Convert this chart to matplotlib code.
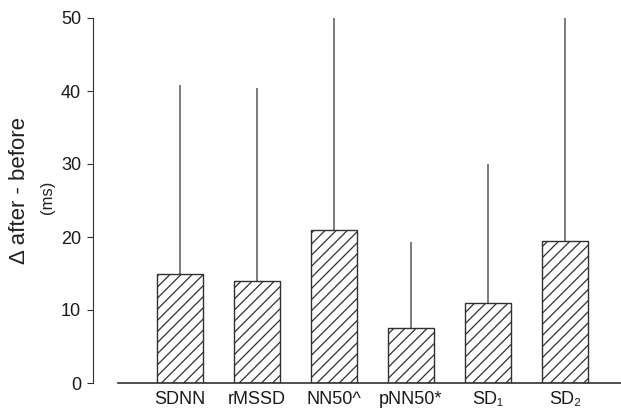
import matplotlib
matplotlib.use("Agg")
import matplotlib.pyplot as plt
import numpy as np

plt.rcParams['font.family'] = ['Liberation Sans', 'DejaVu Sans']
plt.rcParams['hatch.linewidth'] = 0.9

categories = ["SDNN", "rMSSD", "NN50^", "pNN50*", "SD\u2081", "SD\u2082"]
means = [15.0, 14.0, 21.0, 7.5, 11.0, 19.5]
upper_err = [25.8, 26.4, 31.0, 11.8, 19.0, 32.0]
yticks = [0, 10, 20, 30, 40, 50]

fig = plt.figure(figsize=(6.21, 4.08), dpi=100)
ax = fig.add_axes([118/621, 25/408, 1 - 118/621, (383-18)/408])

x = np.arange(len(categories))
ax.errorbar(x, means, yerr=[np.zeros(len(means)), upper_err], fmt='none',
            ecolor='#707070', elinewidth=1.3, capsize=0, zorder=1)
ax.bar(x, means, width=0.6, facecolor='white', edgecolor='#303030',
       linewidth=1.0, hatch='///', zorder=2)

ax.set_xlim(-0.805, 5.73)
ax.set_ylim(0, 50)
ax.set_yticks(yticks)
ax.set_xticks(x)
ax.set_xticklabels(categories, fontsize=13, color='#1a1a1a')
ax.tick_params(axis='x', length=0, pad=6)
ax.tick_params(axis='y', length=4.5, width=0.8, pad=4, labelsize=13,
               color='#303030', labelcolor='#1a1a1a')

for s in ['top', 'right']:
    ax.spines[s].set_visible(False)
ax.spines['left'].set_position(('outward', 18))
ax.spines['left'].set_color('#303030')
ax.spines['bottom'].set_color('#303030')
ax.spines['bottom'].set_linewidth(1.2)

fig.text(20/621, 1 - 191/408, "\u0394 after - before", rotation=90,
         ha='center', va='center', fontsize=16, color='#202020')
fig.text(47/621, 1 - 197/408, "(ms)", rotation=90,
         ha='center', va='center', fontsize=12, color='#202020')

fig.savefig("out.png", dpi=100)
